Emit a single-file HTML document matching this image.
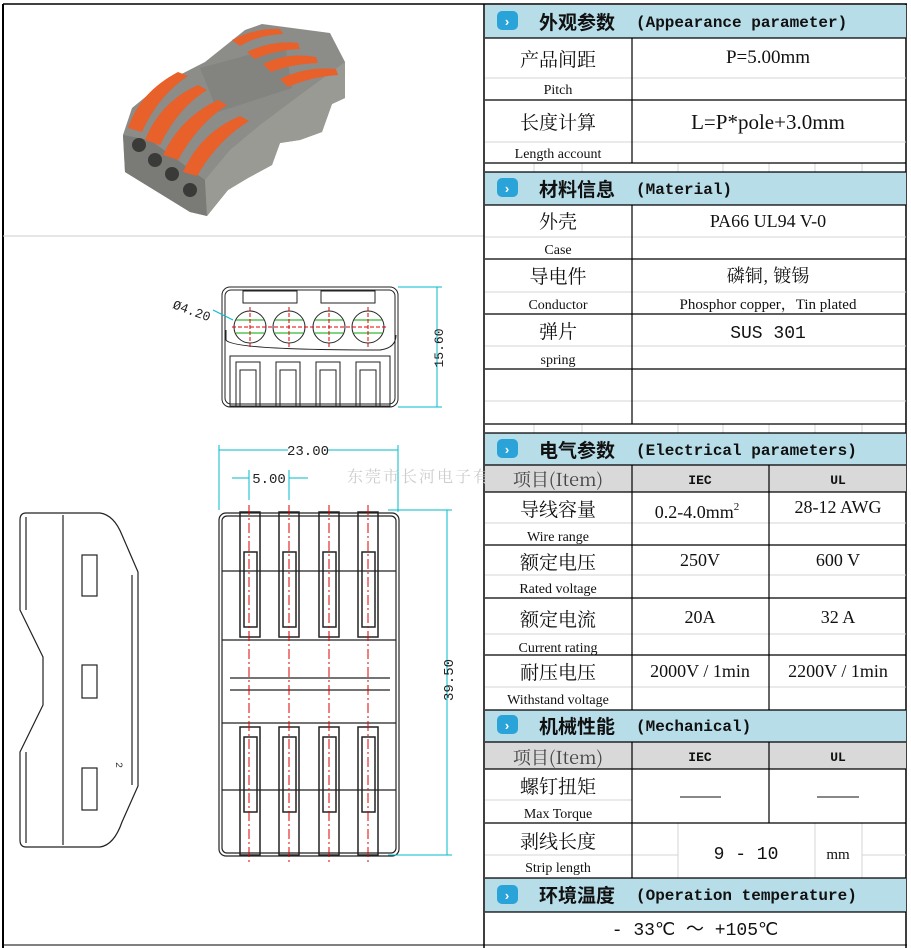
<!DOCTYPE html>
<html><head><meta charset="utf-8"><style>
body{margin:0;background:#fff}
svg{display:block}
.s{font-family:"Liberation Serif","Noto Serif CJK SC",serif}
.c{font-family:"Noto Serif CJK SC","Noto Sans CJK SC",serif}
.h{font-family:"Noto Sans CJK SC","WenQuanYi Zen Hei",sans-serif}
.m{font-family:"Liberation Mono","Noto Sans CJK SC",monospace;font-weight:bold}
.d{font-family:"Liberation Mono",monospace}
</style></head><body>
<svg width="911" height="948" viewBox="0 0 911 948" xmlns="http://www.w3.org/2000/svg">
<rect x="0" y="0" width="911" height="948" fill="#fff"/>
<line x1="3" y1="4" x2="3" y2="948" stroke="#000" stroke-width="2"/>
<line x1="3" y1="4" x2="907" y2="4" stroke="#000" stroke-width="1.5"/>
<line x1="3" y1="236" x2="484" y2="236" stroke="#ccc"/>
<line x1="484" y1="4" x2="484" y2="948" stroke="#000" stroke-width="1.5"/>
<line x1="906" y1="4" x2="906" y2="948" stroke="#000" stroke-width="1.5"/>
<line x1="3" y1="945" x2="907" y2="945" stroke="#000" stroke-width="1"/>

<!-- photo -->
<g>
<polygon points="123,135 132,108 160,85 205,62 245,30 262,24 330,33 345,62 345,98 332,104 322,132 300,140 280,143 272,165 248,178 228,190 207,216 190,212 125,172" fill="#8c8c88"/>
<polygon points="123,135 125,172 190,212 207,216 205,180 150,140" fill="#7a7a76"/>
<polygon points="205,180 207,216 228,190 248,178 272,165 280,143 300,140 322,132 332,104 345,98 345,62 300,95 260,125 230,150" fill="#9a9a95"/>
<polygon points="200,68 285,45 292,88 218,112" fill="#838380"/>
<g fill="#e8602a">
<path d="M128,128 Q140,92 178,72 L188,76 Q158,96 142,132 Z"/>
<path d="M145,140 Q160,102 198,85 L207,90 Q178,108 160,145 Z"/>
<path d="M163,155 Q180,118 218,100 L227,105 Q198,124 178,160 Z"/>
<path d="M183,172 Q200,133 240,116 L249,121 Q218,140 197,176 Z"/>
<path d="M232,40 Q255,28 280,29 L283,34 Q258,35 240,46 Z"/>
<path d="M247,52 Q272,40 298,43 L300,49 Q275,50 255,59 Z"/>
<path d="M263,64 Q288,52 316,57 L318,63 Q292,64 271,72 Z"/>
<path d="M280,79 Q306,66 336,69 L338,75 Q310,77 288,87 Z"/>
</g>
<g fill="#3a3a38"><circle cx="139" cy="145" r="7"/><circle cx="155" cy="160" r="7"/><circle cx="172" cy="174" r="7"/><circle cx="190" cy="190" r="7"/></g>
</g>

<!-- small front drawing -->
<g fill="none" stroke="#222" stroke-width="1">
<rect x="222" y="287" width="176" height="120" rx="8"/>
<rect x="225" y="290" width="170" height="114" rx="6"/>
<rect x="243" y="291" width="54" height="12"/><rect x="321" y="291" width="54" height="12"/>
<path d="M226,330 L226,340 Q232,350 380,350 Q396,348 396,335"/>
<rect x="230" y="356" width="160" height="50"/>
<rect x="236" y="362" width="24" height="44"/><rect x="276" y="362" width="24" height="44"/><rect x="316" y="362" width="24" height="44"/><rect x="356" y="362" width="24" height="44"/>
<rect x="240" y="370" width="16" height="36"/><rect x="280" y="370" width="16" height="36"/><rect x="320" y="370" width="16" height="36"/><rect x="360" y="370" width="16" height="36"/>
<circle cx="250" cy="327" r="16"/><circle cx="289" cy="327" r="16"/><circle cx="329" cy="327" r="16"/><circle cx="368" cy="327" r="16"/>
</g>
<g stroke="#0a0" stroke-width="1">
<line x1="236" y1="320" x2="264" y2="320"/><line x1="275" y1="320" x2="303" y2="320"/><line x1="315" y1="320" x2="343" y2="320"/><line x1="354" y1="320" x2="382" y2="320"/>
<line x1="236" y1="333" x2="264" y2="333"/><line x1="275" y1="333" x2="303" y2="333"/><line x1="315" y1="333" x2="343" y2="333"/><line x1="354" y1="333" x2="382" y2="333"/>
</g>
<g stroke="#d00" stroke-width="1" stroke-dasharray="4,2">
<line x1="250" y1="307" x2="250" y2="348"/><line x1="289" y1="307" x2="289" y2="348"/><line x1="329" y1="307" x2="329" y2="348"/><line x1="368" y1="307" x2="368" y2="348"/>
<line x1="232" y1="327" x2="386" y2="327"/>
</g>
<g stroke="#0bc" stroke-width="1" fill="none">
<line x1="398" y1="287" x2="442" y2="287"/><line x1="398" y1="407" x2="442" y2="407"/>
<line x1="437" y1="287" x2="437" y2="407"/>
<line x1="213" y1="310" x2="233" y2="320"/>
</g>
<text class="d" x="443" y="348" font-size="13" fill="#222" transform="rotate(-90 443 348)" text-anchor="middle">15.60</text>
<text class="d" x="172" y="308" font-size="13" fill="#222" transform="rotate(20 172 308)">Ø4.20</text>

<!-- big top drawing -->
<g fill="none" stroke="#222" stroke-width="1.2">
<rect x="219" y="513" width="180" height="343" rx="7"/>
<rect x="222" y="516" width="174" height="337" rx="5"/>
<line x1="222" y1="571" x2="396" y2="571"/><line x1="222" y1="640" x2="396" y2="640"/>
<line x1="230" y1="678" x2="390" y2="678"/><line x1="230" y1="690" x2="390" y2="690"/>
<line x1="222" y1="723" x2="396" y2="723"/><line x1="222" y1="790" x2="396" y2="790"/>
</g>
<g fill="none" stroke="#222" stroke-width="1.5">
<rect x="240" y="512" width="20" height="125"/><rect x="279" y="512" width="20" height="125"/><rect x="319" y="512" width="20" height="125"/><rect x="358" y="512" width="20" height="125"/>
<rect x="244" y="552" width="13" height="75"/><rect x="283" y="552" width="13" height="75"/><rect x="323" y="552" width="13" height="75"/><rect x="362" y="552" width="13" height="75"/>
<rect x="240" y="727" width="20" height="128"/><rect x="279" y="727" width="20" height="128"/><rect x="319" y="727" width="20" height="128"/><rect x="358" y="727" width="20" height="128"/>
<rect x="244" y="737" width="13" height="75"/><rect x="283" y="737" width="13" height="75"/><rect x="323" y="737" width="13" height="75"/><rect x="362" y="737" width="13" height="75"/>
</g>
<g stroke="#d00" stroke-width="1" stroke-dasharray="10,3,2,3">
<line x1="249" y1="505" x2="249" y2="862"/><line x1="289" y1="505" x2="289" y2="862"/><line x1="329" y1="505" x2="329" y2="862"/><line x1="368" y1="505" x2="368" y2="862"/>
</g>
<g stroke="#0bc" stroke-width="1" fill="none">
<line x1="219" y1="445" x2="219" y2="510"/><line x1="398" y1="445" x2="398" y2="512"/>
<line x1="219" y1="450" x2="288" y2="450"/><line x1="328" y1="450" x2="398" y2="450"/>
<line x1="249" y1="470" x2="249" y2="500"/><line x1="289" y1="470" x2="289" y2="500"/>
<line x1="232" y1="478" x2="249" y2="478"/><line x1="289" y1="478" x2="308" y2="478"/>
<line x1="388" y1="510" x2="452" y2="510"/><line x1="388" y1="855" x2="452" y2="855"/>
<line x1="447" y1="510" x2="447" y2="855"/>
</g>
<text class="d" x="308" y="455" font-size="14" fill="#222" text-anchor="middle">23.00</text>
<text class="d" x="269" y="483" font-size="14" fill="#222" text-anchor="middle">5.00</text>
<text class="d" x="453" y="680" font-size="14" fill="#222" transform="rotate(-90 453 680)" text-anchor="middle">39.50</text>
<text class="c" x="347" y="482" font-size="16" fill="#ccc" letter-spacing="2">东莞市长河电子有限</text>

<!-- side view -->
<g fill="none" stroke="#222" stroke-width="1.2">
<path d="M26,513 L100,513 Q114,515 122,535 L138,572 L138,786 L122,822 Q114,845 100,847 L26,847 Q20,847 20,840 L20,752 L43,705 L43,657 L20,610 L20,520 Q20,513 26,513 Z"/>
<path d="M26,517 L26,610 M26,752 L26,843"/>
<line x1="63" y1="515" x2="63" y2="845"/>
<rect x="82" y="555" width="15" height="41"/><rect x="82" y="665" width="15" height="33"/><rect x="82" y="768" width="15" height="42"/>
<line x1="132" y1="575" x2="132" y2="785"/>
</g>
<text class="d" x="116" y="762" font-size="10" fill="#333" transform="rotate(90 116 762)">2</text>

<!-- table fills -->
<rect x="485" y="5" width="421" height="33" fill="#b7dde8"/>
<rect x="485" y="172" width="421" height="33" fill="#b7dde8"/>
<rect x="485" y="433" width="421" height="32" fill="#b7dde8"/>
<rect x="485" y="465" width="421" height="27" fill="#d9d9d9"/>
<rect x="485" y="710" width="421" height="32" fill="#b7dde8"/>
<rect x="485" y="742" width="421" height="27" fill="#d9d9d9"/>
<rect x="485" y="878" width="421" height="34" fill="#b7dde8"/>
<g stroke="#d4d4d4" stroke-width="1">
<line x1="485" y1="78" x2="906" y2="78"/><line x1="485" y1="142" x2="906" y2="142"/>
<line x1="485" y1="237" x2="906" y2="237"/><line x1="485" y1="292" x2="906" y2="292"/><line x1="485" y1="346" x2="906" y2="346"/><line x1="485" y1="401" x2="906" y2="401"/>
<line x1="485" y1="523" x2="906" y2="523"/><line x1="485" y1="575" x2="906" y2="575"/><line x1="485" y1="634" x2="906" y2="634"/><line x1="485" y1="687" x2="906" y2="687"/>
<line x1="485" y1="800" x2="632" y2="800"/><line x1="485" y1="855" x2="678" y2="855"/><line x1="862" y1="855" x2="906" y2="855"/>
<line x1="678" y1="823" x2="678" y2="878"/><line x1="815" y1="823" x2="815" y2="878"/><line x1="862" y1="823" x2="862" y2="878"/>
<line x1="534" y1="163" x2="534" y2="172"/><line x1="582" y1="163" x2="582" y2="172"/><line x1="678" y1="163" x2="678" y2="172"/><line x1="723" y1="163" x2="723" y2="172"/><line x1="769" y1="163" x2="769" y2="172"/><line x1="815" y1="163" x2="815" y2="172"/><line x1="862" y1="163" x2="862" y2="172"/>
<line x1="534" y1="424" x2="534" y2="433"/><line x1="582" y1="424" x2="582" y2="433"/><line x1="678" y1="424" x2="678" y2="433"/><line x1="723" y1="424" x2="723" y2="433"/><line x1="769" y1="424" x2="769" y2="433"/><line x1="815" y1="424" x2="815" y2="433"/><line x1="862" y1="424" x2="862" y2="433"/>
</g>
<g stroke="#000" stroke-width="1.2">
<line x1="485" y1="38" x2="906" y2="38"/><line x1="485" y1="100" x2="906" y2="100"/><line x1="485" y1="163" x2="906" y2="163"/>
<line x1="485" y1="172" x2="906" y2="172"/><line x1="485" y1="205" x2="906" y2="205"/><line x1="485" y1="259" x2="906" y2="259"/><line x1="485" y1="314" x2="906" y2="314"/><line x1="485" y1="369" x2="906" y2="369"/><line x1="485" y1="424" x2="906" y2="424"/>
<line x1="485" y1="433" x2="906" y2="433"/><line x1="485" y1="465" x2="906" y2="465"/><line x1="485" y1="492" x2="906" y2="492"/><line x1="485" y1="545" x2="906" y2="545"/><line x1="485" y1="598" x2="906" y2="598"/><line x1="485" y1="655" x2="906" y2="655"/><line x1="485" y1="710" x2="906" y2="710"/>
<line x1="485" y1="742" x2="906" y2="742"/><line x1="485" y1="769" x2="906" y2="769"/><line x1="485" y1="823" x2="906" y2="823"/><line x1="485" y1="878" x2="906" y2="878"/><line x1="485" y1="912" x2="906" y2="912"/>
<line x1="632" y1="38" x2="632" y2="163"/><line x1="632" y1="205" x2="632" y2="424"/><line x1="632" y1="465" x2="632" y2="710"/><line x1="632" y1="742" x2="632" y2="878"/>
<line x1="769" y1="465" x2="769" y2="710"/><line x1="769" y1="742" x2="769" y2="823"/>
</g>
<g>
<rect x="497" y="11" width="21" height="19" rx="5" fill="#2aa3d8"/><text x="507" y="26" font-size="13" fill="#fff" text-anchor="middle" font-family="Liberation Sans" font-weight="bold">›</text>
<rect x="497" y="178" width="21" height="19" rx="5" fill="#2aa3d8"/><text x="507" y="193" font-size="13" fill="#fff" text-anchor="middle" font-family="Liberation Sans" font-weight="bold">›</text>
<rect x="497" y="439" width="21" height="19" rx="5" fill="#2aa3d8"/><text x="507" y="454" font-size="13" fill="#fff" text-anchor="middle" font-family="Liberation Sans" font-weight="bold">›</text>
<rect x="497" y="715" width="21" height="19" rx="5" fill="#2aa3d8"/><text x="507" y="730" font-size="13" fill="#fff" text-anchor="middle" font-family="Liberation Sans" font-weight="bold">›</text>
<rect x="497" y="885" width="21" height="19" rx="5" fill="#2aa3d8"/><text x="507" y="900" font-size="13" fill="#fff" text-anchor="middle" font-family="Liberation Sans" font-weight="bold">›</text>
</g>
<g fill="#111">
<text x="539" y="29" class="h" font-size="19" font-weight="bold">外观参数</text><text x="636" y="27" class="m" font-size="16">(Appearance parameter)</text>
<text x="539" y="196" class="h" font-size="19" font-weight="bold">材料信息</text><text x="636" y="194" class="m" font-size="16">(Material)</text>
<text x="539" y="457" class="h" font-size="19" font-weight="bold">电气参数</text><text x="636" y="455" class="m" font-size="16">(Electrical parameters)</text>
<text x="539" y="733" class="h" font-size="19" font-weight="bold">机械性能</text><text x="636" y="731" class="m" font-size="16">(Mechanical)</text>
<text x="539" y="902" class="h" font-size="19" font-weight="bold">环境温度</text><text x="636" y="900" class="m" font-size="16">(Operation temperature)</text>
</g>
<g fill="#111" text-anchor="middle">
<text x="558" y="66" class="c" font-size="19">产品间距</text><text x="558" y="94" class="s" font-size="14">Pitch</text>
<text x="768" y="63" class="s" font-size="19">P=5.00mm</text>
<text x="558" y="129" class="c" font-size="19">长度计算</text><text x="558" y="158" class="s" font-size="14">Length account</text>
<text x="768" y="129" class="s" font-size="21">L=P*pole+3.0mm</text>
<text x="558" y="228" class="c" font-size="19">外壳</text><text x="558" y="254" class="s" font-size="14">Case</text>
<text x="768" y="227" class="s" font-size="18">PA66 UL94 V-0</text>
<text x="558" y="283" class="c" font-size="19">导电件</text><text x="558" y="309" class="s" font-size="14">Conductor</text>
<text x="768" y="282" class="c" font-size="18">磷铜, 镀锡</text><text x="768" y="309" class="s" font-size="15">Phosphor copper，Tin plated</text>
<text x="558" y="338" class="c" font-size="19">弹片</text><text x="558" y="364" class="s" font-size="14">spring</text>
<text x="768" y="338" class="d" font-size="18">SUS 301</text>
<text x="558" y="486" class="c" font-size="18" fill="#444">项目(Item)</text>
<text x="700" y="484" class="m" font-size="13">IEC</text><text x="838" y="484" class="m" font-size="13">UL</text>
<text x="558" y="516" class="c" font-size="19">导线容量</text><text x="558" y="541" class="s" font-size="14">Wire range</text>
<text x="697" y="518" class="s" font-size="18">0.2-4.0mm<tspan font-size="11" dy="-8">2</tspan></text><text x="838" y="513" class="s" font-size="18">28-12 AWG</text>
<text x="558" y="569" class="c" font-size="19">额定电压</text><text x="558" y="593" class="s" font-size="14">Rated voltage</text>
<text x="700" y="566" class="s" font-size="18">250V</text><text x="838" y="566" class="s" font-size="18">600 V</text>
<text x="558" y="626" class="c" font-size="19">额定电流</text><text x="558" y="652" class="s" font-size="14">Current rating</text>
<text x="700" y="623" class="s" font-size="18">20A</text><text x="838" y="623" class="s" font-size="18">32 A</text>
<text x="558" y="679" class="c" font-size="19">耐压电压</text><text x="558" y="704" class="s" font-size="14">Withstand voltage</text>
<text x="700" y="677" class="s" font-size="18">2000V / 1min</text><text x="838" y="677" class="s" font-size="18">2200V / 1min</text>
<text x="558" y="764" class="c" font-size="18" fill="#444">项目(Item)</text>
<text x="700" y="761" class="m" font-size="13">IEC</text><text x="838" y="761" class="m" font-size="13">UL</text>
<text x="558" y="793" class="c" font-size="19">螺钉扭矩</text><text x="558" y="818" class="s" font-size="14">Max Torque</text>
<text x="558" y="848" class="c" font-size="19">剥线长度</text><text x="558" y="872" class="s" font-size="14">Strip length</text>
<text x="746" y="859" class="d" font-size="18">9 - 10</text><text x="838" y="859" class="s" font-size="15">mm</text>
<text x="695" y="935" class="d" font-size="18">- 33℃ ～ +105℃</text>
</g>
<g stroke="#111" stroke-width="1"><line x1="680" y1="797" x2="721" y2="797"/><line x1="817" y1="797" x2="859" y2="797"/></g>
</svg>
</body></html>
